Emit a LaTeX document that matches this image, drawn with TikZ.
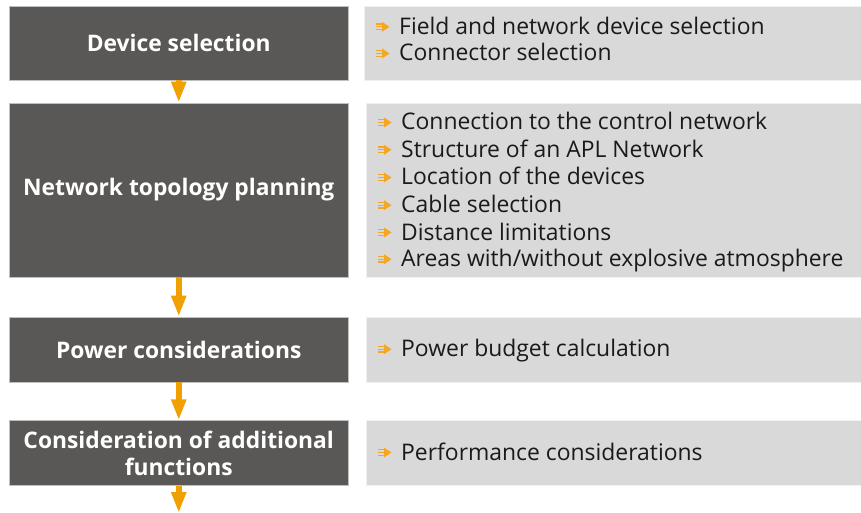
\documentclass[tikz,border=0pt]{standalone}
\usepackage{fontspec}
\setmainfont{Open Sans}
\usetikzlibrary{arrows.meta}
\definecolor{darkbox}{HTML}{595856}
\definecolor{lightbox}{HTML}{D9D9D9}
\definecolor{aplorange}{HTML}{F0A000}
\definecolor{bulorange}{HTML}{F5A623}
\definecolor{itemblack}{HTML}{1A1A1A}
\begin{document}
\begin{tikzpicture}[x=1pt,y=-1pt,
  stepbox/.style={draw=black!25, line width=0.8pt, fill=darkbox, text=white,
    font=\bfseries\fontsize{22.8}{27}\selectfont, align=center, inner sep=0pt,
    minimum width=338.5pt},
  infobox/.style={fill=lightbox, draw=black!6, line width=0.6pt, inner sep=0pt},
  flow/.style={draw=aplorange, line width=6pt, -{Triangle[width=14pt,length=21pt,fill=aplorange]}},
  itemtext/.style={anchor=base west, inner sep=0pt, text=itemblack,
    font=\fontsize{22.9}{27}\selectfont},
  bulletmark/.pic={
    \fill[bulorange] (-1,-5) -- (6.5,0) -- (-1,5) -- cycle;
    \draw[bulorange, line width=1.4pt] (-7,-2.8) -- (0,-2.8) (-7,0) -- (0,0) (-7,2.8) -- (0,2.8);
  }
]
\useasboundingbox (0,0) rectangle (861,513);

% left step boxes
\node[stepbox, minimum height=74pt] (s1) at (178.75,43) {Device selection};
\node[stepbox, minimum height=174pt] (s2) at (178.75,190) {Network topology planning};
\node[stepbox, minimum height=65pt] (s3) at (178.75,349.5) {Power considerations};
\node[stepbox, minimum height=64.5pt] (s4) at (178.75,453) {Consideration of additional\\functions};
\coordinate (end) at (178.75,513);

% right info boxes
\node[infobox, minimum width=497pt, minimum height=73.5pt] (i1) at (612.5,43.25) {};
\node[infobox, minimum width=495pt, minimum height=174.5pt] (i2) at (613.5,190.25) {};
\node[infobox, minimum width=495pt, minimum height=65pt] (i3) at (613.5,349.5) {};
\node[infobox, minimum width=495pt, minimum height=64.5pt] (i4) at (613.5,453) {};

% flow arrows
\draw[flow] (s1.south) -- (s2.north);
\draw[flow] (s2.south) -- (s3.north);
\draw[flow] (s3.south) -- (s4.north);
\draw[flow] (s4.south) -- (end);

% items
\foreach \y/\t [count=\k] in {34.3/Field and network device selection, 61/Connector selection}{
  \pic at (383,\y-7.5) {bulletmark};
  \node[itemtext] (a\k) at (399,\y) {\t};
}
\foreach \y/\t [count=\k] in {130/Connection to the control network, 157.3/Structure of an APL Network,
  185/Location of the devices, 212.7/Cable selection, 240/Distance limitations,
  266.7/Areas with\slash without explosive atmosphere}{
  \pic at (385,\y-7.5) {bulletmark};
  \node[itemtext] (b\k) at (401,\y) {\t};
}
\pic at (385,356.7-7.5) {bulletmark};
\node[itemtext] (c1) at (401,356.7) {Power budget calculation};
\pic at (385,460-7.5) {bulletmark};
\node[itemtext] (d1) at (401,460) {Performance considerations};
\end{tikzpicture}
\end{document}
